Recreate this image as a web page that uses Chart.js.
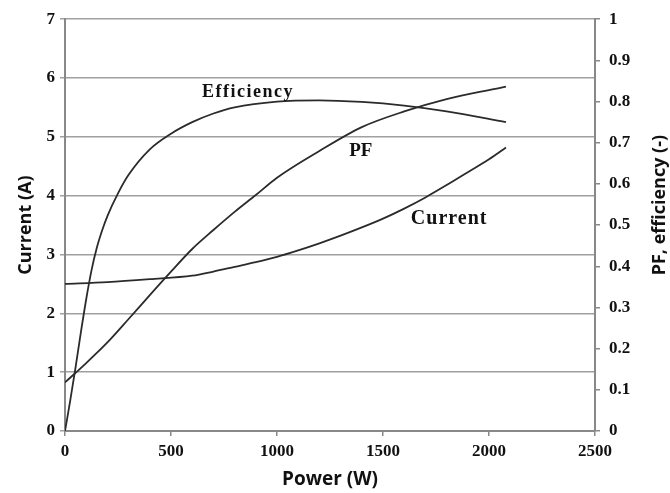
<!DOCTYPE html>
<html>
<head>
<meta charset="utf-8">
<script src="https://cdn.jsdelivr.net/npm/chart.js@4.4.1/dist/chart.umd.min.js"></script>
<style>
  html, body { margin: 0; padding: 0; background: #fff; }
  #wrap { width: 670px; height: 493px; position: relative; }
</style>
</head>
<body>
<div id="wrap"><canvas id="c" width="670" height="493"></canvas></div>
<script>
// ---- Data ----
const effPower = [0, 25, 50, 75, 100, 125, 150, 175, 200, 250, 300, 400, 500, 600, 700, 800, 1000, 1200, 1400, 1600, 1800, 2080];
const effValues = [0, 0.075, 0.155, 0.24, 0.32, 0.39, 0.445, 0.487, 0.522, 0.577, 0.622, 0.684, 0.722, 0.75, 0.771, 0.786, 0.8, 0.803, 0.799, 0.79, 0.776, 0.75];

const pfPower = [0, 100, 200, 300, 400, 500, 600, 700, 800, 900, 1000, 1200, 1400, 1600, 1800, 2000, 2080];
const pfValues = [0.118, 0.165, 0.215, 0.272, 0.33, 0.387, 0.442, 0.488, 0.532, 0.573, 0.615, 0.68, 0.738, 0.776, 0.806, 0.828, 0.836];

const curPower = [0, 200, 400, 600, 700, 800, 900, 1000, 1100, 1200, 1300, 1400, 1500, 1600, 1700, 1800, 1900, 2000, 2080];
const curValues = [2.5, 2.53, 2.58, 2.64, 2.71, 2.79, 2.87, 2.96, 3.07, 3.19, 3.32, 3.46, 3.61, 3.78, 3.97, 4.18, 4.4, 4.62, 4.82];

// in-plot labels (anchored in data units: power, current axis value)
const labelNames = ["Efficiency", "PF", "Current"];
const labelPower = [863, 1395, 1812];
const labelValue = [5.75, 4.76, 3.6];

const xTicks = { min: 0, max: 2500, step: 500 };
const yLeftTicks = { min: 0, max: 7, step: 1 };
const yRightTicks = { min: 0, max: 1, step: 0.1 };

const pts = (xs, ys) => xs.map((x, i) => ({ x: x, y: ys[i] }));

const lineColor = '#2b2b2b';
const tickFont = { family: 'Liberation Serif', weight: 'bold', size: 17 };
const titleFont = { family: 'Open Sans', weight: 'bold', size: 18 };

const labelPlugin = {
  id: 'curveLabels',
  afterDatasetsDraw(chart) {
    const ctx = chart.ctx;
    const xs = chart.scales.x, ys = chart.scales.y;
    const fonts = ['bold 18px "Liberation Serif"', 'bold 19px "Liberation Serif"', 'bold 20px "Liberation Serif"'];
    const spacing = ['1.5px', '0px', '1px'];
    ctx.save();
    ctx.fillStyle = '#111';
    ctx.textAlign = 'center';
    ctx.textBaseline = 'middle';
    labelNames.forEach((t, i) => {
      ctx.font = fonts[i];
      try { ctx.letterSpacing = spacing[i]; } catch (e) {}
      ctx.fillText(t, xs.getPixelForValue(labelPower[i]), ys.getPixelForValue(labelValue[i]));
    });
    ctx.restore();
    // right axis title
    const r = chart.scales.y1;
    ctx.save();
    ctx.font = 'bold 18px "Open Sans"';
    ctx.fillStyle = '#111';
    ctx.textAlign = 'center';
    ctx.textBaseline = 'middle';
    ctx.translate(r.right - 10, (chart.chartArea.top + chart.chartArea.bottom) / 2 - 20);
    ctx.rotate(-Math.PI / 2);
    ctx.fillText('PF, efficiency (-)', 0, 0);
    ctx.restore();
  }
};

new Chart(document.getElementById('c'), {
  type: 'line',
  data: {
    datasets: [
      { label: 'Efficiency', data: pts(effPower, effValues), yAxisID: 'y1' },
      { label: 'PF', data: pts(pfPower, pfValues), yAxisID: 'y1' },
      { label: 'Current', data: pts(curPower, curValues), yAxisID: 'y' }
    ].map(d => Object.assign(d, {
      borderColor: lineColor, borderWidth: 1.8, pointRadius: 0, fill: false,
      cubicInterpolationMode: 'monotone'
    }))
  },
  options: {
    responsive: false,
    animation: false,
    devicePixelRatio: 1,
    layout: { padding: { top: 14, left: 0, right: 0, bottom: 0 } },
    plugins: { legend: { display: false }, tooltip: { enabled: false } },
    scales: {
      x: {
        type: 'linear', min: xTicks.min, max: xTicks.max,
        ticks: { stepSize: xTicks.step, font: tickFont, color: '#111', padding: 5, maxRotation: 0,
                 callback: v => String(v) },
        grid: { drawOnChartArea: false, drawTicks: true, tickLength: 5, color: '#888', lineWidth: 1.5 },
        border: { color: '#888', width: 2 },
        title: { display: true, text: 'Power (W)', font: Object.assign({}, titleFont, { size: 19 }), color: '#111', padding: { top: 0, bottom: 2 } },
        afterFit(s) { s.height = 62; }
      },
      y: {
        position: 'left', min: yLeftTicks.min, max: yLeftTicks.max,
        ticks: { stepSize: yLeftTicks.step, font: tickFont, color: '#111', padding: 5 },
        grid: { color: '#a0a0a0', lineWidth: 1.5, tickLength: 5 },
        border: { color: '#888', width: 2 },
        title: { display: true, text: 'Current (A)', font: titleFont, color: '#111', padding: { top: 15, bottom: 0 } },
        afterFit(s) { s.width = 65; }
      },
      y1: {
        position: 'right', min: yRightTicks.min, max: yRightTicks.max,
        ticks: { stepSize: yRightTicks.step, font: tickFont, color: '#111', padding: 9,
                 callback: v => String(Math.round(v * 10) / 10) },
        grid: { drawOnChartArea: false, tickLength: 5, color: '#888', lineWidth: 1.5 },
        border: { color: '#888', width: 2 },
        title: { display: false },
        afterFit(s) { s.width = 75; }
      }
    }
  },
  plugins: [labelPlugin]
});
</script>
</body>
</html>
